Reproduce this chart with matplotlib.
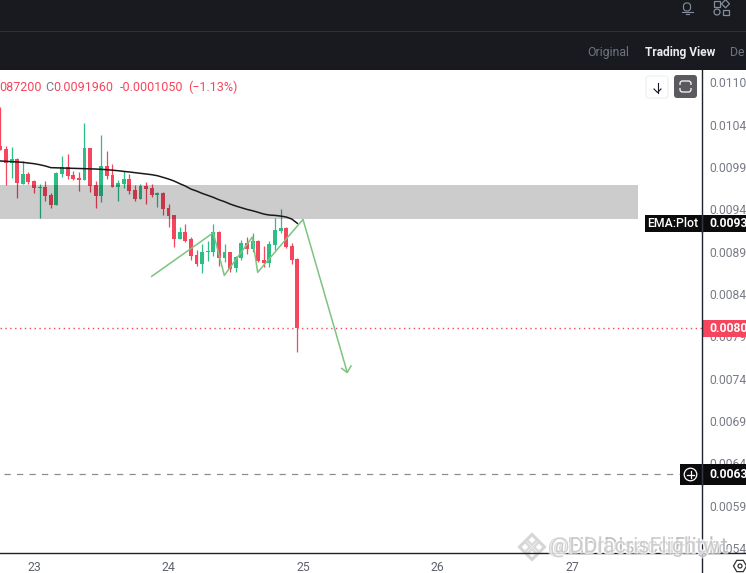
import numpy as np
import matplotlib
matplotlib.use("Agg")
import matplotlib.pyplot as plt
import matplotlib.patheffects as pe
from matplotlib.patches import FancyBboxPatch, Rectangle, Circle, RegularPolygon

plt.rcParams["font.family"] = ["Roboto", "DejaVu Sans"]

# hourly candles, prices x 1e-5
opens = [1024.0, 1020.4, 1004.3, 1008.6, 979.1, 990.9, 982.6, 974.8, 975.5, 966.1,
         954.3, 990.9, 999.2, 989.7, 986.2, 983.8, 1021.6, 977.9, 964.9, 1000.4,
         989.7, 975.5, 979.1, 985.0, 972.0, 961.4, 976.7, 974.4, 966.1, 968.4,
         950.7, 942.4, 914.1, 922.3, 914.1, 895.2, 884.5, 898.7, 898.7, 922.3,
         891.6, 898.7, 879.8, 891.6, 909.3, 902.2, 911.7, 889.2, 885.7, 907.0,
         923.5, 927.1, 905.8, 890.4]
highs = [1070.5, 1024.0, 1022.4, 1009.4, 1006.3, 993.3, 983.8, 979.1, 982.6, 968.1,
         993.7, 1012.2, 1014.5, 994.4, 993.3, 1051.2, 1021.6, 982.6, 1037.0, 1018.5,
         1002.7, 983.8, 994.4, 990.9, 977.9, 979.1, 981.4, 979.1, 969.6, 969.6,
         955.4, 942.4, 928.2, 931.8, 916.4, 901.1, 908.2, 911.7, 931.8, 923.5,
         908.2, 898.7, 894.0, 912.9, 916.4, 921.2, 912.9, 905.8, 911.7, 938.9,
         949.5, 928.2, 909.3, 891.6]
lows = [1019.3, 977.9, 986.6, 962.1, 979.1, 979.1, 968.1, 939.3, 959.4, 950.3,
        954.3, 987.8, 985.0, 983.8, 971.2, 983.8, 970.0, 951.1, 958.2, 985.0,
        975.5, 959.0, 974.4, 967.3, 959.0, 961.4, 955.5, 963.7, 951.9, 942.4,
        928.6, 905.0, 914.1, 910.5, 889.2, 882.2, 874.3, 888.1, 894.0, 882.2,
        886.9, 875.1, 875.1, 889.2, 896.3, 898.7, 886.9, 881.0, 881.0, 901.1,
        921.2, 903.4, 884.5, 780.5]
closes = [1019.3, 1004.3, 1008.6, 979.9, 990.9, 981.4, 974.8, 975.9, 964.9, 954.3,
          992.1, 999.2, 988.5, 985.0, 983.8, 1021.6, 976.7, 964.9, 1000.4, 988.5,
          975.5, 980.3, 985.0, 970.8, 961.4, 976.7, 973.2, 966.1, 968.5, 949.5,
          941.2, 914.1, 922.3, 911.7, 894.0, 884.5, 898.7, 899.9, 922.3, 891.6,
          898.7, 878.6, 892.8, 909.3, 902.2, 911.7, 888.1, 885.7, 908.2, 924.7,
          927.1, 904.6, 889.2, 808.5]
ema = [1006.3, 1005.9, 1005.5, 1005.1, 1004.7, 1003.9, 1003.1, 1001.9, 1000.4, 998.4,
       998.2, 998.0, 997.8, 997.6, 997.4, 997.2, 997.0, 996.8, 996.4, 996.0,
       995.4, 994.8, 994.0, 993.3, 992.5, 991.7, 990.9, 990.1, 988.9, 987.0,
       985.0, 982.6, 979.5, 976.7, 973.1, 970.8, 968.0, 965.7, 963.3, 960.5,
       958.2, 955.4, 953.1, 951.1, 949.1, 947.5, 945.6, 943.6, 942.4, 942.0,
       941.2, 940.1, 937.7, 932.6]

# hand drawn zigzag and arrow
zig_x = [23.875, 24.333, 24.415, 24.623, 24.663, 25.0, 25.329]
zig_y = [870.0, 921.5, 871.1, 916.4, 874.7, 937.3, 756.5]
head_x = [25.288, 25.329, 25.357]
head_y = [761.2, 756.5, 764.0]

band_top, band_bottom = 977.9, 938.1
band_end = 27.488
last_price = 808.5
dash_price = 636.0

day_ticks = [23, 24, 25, 26, 27]
price_ticks = [1100, 1049, 999, 949, 899, 849, 799, 749, 699, 649, 599, 549]
price_labels = ["0.01100", "0.01049", "0.00999", "0.00949", "0.00899", "0.00849",
                "0.00799", "0.00749", "0.00699", "0.00649", "0.00599", "0.00549"]

RED = "#f6465d"
GREEN = "#2ebd85"
DARK = "#181a20"
W, H = 746, 573

fig = plt.figure(figsize=(W / 100, H / 100), dpi=100, facecolor="white")
ax = fig.add_axes([0, 1 - 553 / H, 702 / W, (553 - 70.5) / H])
ax.set_xlim(22.747, 27.967)
ax.set_ylim(543.1, 1113.2)

opens = np.array(opens)
closes = np.array(closes)
t = 22.75 + np.arange(len(opens)) / 24
colors = [GREEN if c >= o else RED for o, c in zip(opens, closes)]
ax.vlines(t, lows, highs, colors=colors, lw=0.9, zorder=2)
ax.bar(t, np.abs(closes - opens), bottom=np.minimum(opens, closes), width=0.029,
       color=colors, zorder=2, linewidth=0)

ax.fill_between([ax.get_xlim()[0], band_end], band_bottom, band_top, color="black",
                alpha=0.2, lw=0, zorder=3)
ax.plot(t, ema, color="#1a1a1a", lw=1.1, zorder=4)
ax.axhline(last_price, color=RED, lw=1, ls=(0, (1, 2.5)), zorder=1)
ax.plot([22.78, 27.8], [dash_price, dash_price], color="#8a8e97", lw=0.9, ls=(0, (5, 5)), zorder=1)
ax.plot(zig_x, zig_y, color="#7cc47f", lw=1.1, zorder=5)
ax.plot(head_x, head_y, color="#7cc47f", lw=1.1, zorder=5)

ax.set_xticks(day_ticks)
ax.set_xticklabels([str(d) for d in day_ticks])
ax.yaxis.tick_right()
ax.set_yticks(price_ticks)
ax.set_yticklabels(price_labels)
ax.tick_params(axis="x", length=0, pad=5.5, labelsize=8.8, labelcolor="#5f636e")
ax.tick_params(axis="y", length=0, pad=5, labelsize=8.7, labelcolor="#787b86")
for side in ["top", "left", "right", "bottom"]:
    ax.spines[side].set_visible(False)

# overlay in pixels for the page chrome
ov = fig.add_axes([0, 0, 1, 1], facecolor="none")
ov.set_xlim(0, W)
ov.set_ylim(H, 0)
ov.axis("off")

ov.add_patch(Rectangle((0, 0), W, 70, color=DARK, lw=0))
ov.plot([0, W], [30.5, 30.5], color="#2b3139", lw=0.8)
ov.plot([702, 702], [70, H], color="#1e222d", lw=1)
ov.plot([0, W], [553, 553], color="#1e222d", lw=1)
ov.text(608, 52.5, "Original", color="#6f7580", fontsize=8.8, ha="center", va="center")
ov.text(680, 52.5, "Trading View", color="#eaecef", fontsize=8.6, fontweight="bold", ha="center", va="center")
ov.text(730, 52.5, "De", color="#6f7580", fontsize=8.8, ha="left", va="center")

# bell and app icons
ov.add_patch(FancyBboxPatch((684, 3.5), 6, 7, boxstyle="round,pad=0.5,rounding_size=3", fc="none", ec="#848e9c", lw=0.8))
ov.plot([681.5, 692.5], [11.5, 11.5], color="#848e9c", lw=0.8)
ov.plot([685.5, 688.5], [14, 14], color="#848e9c", lw=0.8)
ov.add_patch(Rectangle((714, 1), 5.5, 5.5, fc="none", ec="#848e9c", lw=0.9))
ov.add_patch(RegularPolygon((725.5, 3.8), 4, radius=4, fc="none", ec="#848e9c", lw=0.9))
ov.add_patch(Circle((717, 12), 3, fc="none", ec="#848e9c", lw=0.9))
ov.add_patch(Rectangle((723, 9.5), 5.5, 5.5, fc="none", ec="#848e9c", lw=0.9))

# ohlc header
hy = 87.5
ov.text(-1, hy, "087200", color=RED, fontsize=9, va="center", ha="left")
ov.text(45.5, hy, "C", color="#787b86", fontsize=9, va="center", ha="left")
ov.text(53.5, hy, "0.0091960", color=RED, fontsize=9, va="center", ha="left")
ov.text(120, hy, "-0.0001050", color=RED, fontsize=9, va="center", ha="left")
ov.text(188, hy, "(\u22121.13%)", color=RED, fontsize=9, va="center", ha="left")

# chart buttons
ov.add_patch(FancyBboxPatch((646, 76), 22, 22, boxstyle="round,pad=0,rounding_size=3", fc="white", ec="#eceef2", lw=0.8))
ov.plot([657.5, 657.5], [82.5, 92.5], color="#131722", lw=0.8)
ov.plot([654, 657.5, 661], [89, 92.5, 89], color="#131722", lw=0.8)
ov.add_patch(FancyBboxPatch((674, 75), 23, 23, boxstyle="round,pad=0,rounding_size=3", fc="#5a5a5f", ec="none"))
ov.add_patch(FancyBboxPatch((680, 81), 11, 11, boxstyle="round,pad=0,rounding_size=2.5", fc="none", ec="white", lw=0.9))
ov.add_patch(Rectangle((678, 85), 15, 3, fc="#5a5a5f", ec="none"))

# price labels
ov.add_patch(Rectangle((645, 215), 101, 17, color="#0b0b0e", lw=0))
ov.text(673, 223.5, "EMA:Plot", color="white", fontsize=8.8, fontweight="medium", ha="center", va="center")
ov.plot([702, 702], [215, 232], color="#333740", lw=1)
ov.text(709, 223.5, "0.00933", color="white", fontsize=8.7, fontweight="bold", ha="left", va="center")
ov.add_patch(Rectangle((702, 320), 44, 17, color=RED, lw=0))
ov.text(709, 328.5, "0.00809", color="white", fontsize=8.7, fontweight="bold", ha="left", va="center")
ov.add_patch(Rectangle((680, 464), 66, 21, color="#0b0b0e", lw=0))
ov.add_patch(Circle((690.5, 474.5), 6.3, fc="none", ec="white", lw=0.9))
ov.plot([687, 694], [474.5, 474.5], color="white", lw=0.9)
ov.plot([690.5, 690.5], [471, 478], color="white", lw=0.9)
ov.plot([702, 702], [464, 485], color="#333740", lw=1)
ov.text(709, 474.5, "0.00637", color="white", fontsize=8.7, fontweight="bold", ha="left", va="center")

# settings glyph
ov.add_patch(RegularPolygon((740, 566), 6, radius=6.5, orientation=np.pi / 6, fc="none", ec="#333", lw=0.9))
ov.add_patch(Circle((740, 566), 2, fc="none", ec="#333", lw=0.9))

# watermark
halo = [pe.withStroke(linewidth=2.2, foreground="white", alpha=0.6)]
for cx, cy, r in [(532, 540, 5), (525, 547, 5), (539, 547, 5), (532, 554, 5), (532, 547, 13)]:
    ov.add_patch(RegularPolygon((cx, cy), 4, radius=r, fc="none", ec="#d4d4d4", lw=1.8, alpha=0.85))
ov.text(548, 547, "@FibrDIsacciFlight", color="#b0b0b0", fontsize=15.5, alpha=0.75, ha="left", va="center", path_effects=halo)
ov.text(550, 547, "@DDlacrisFlightw", color="#c0c0c0", fontsize=15.5, alpha=0.7, ha="left", va="center", path_effects=halo)

fig.savefig("out.png", dpi=100)
